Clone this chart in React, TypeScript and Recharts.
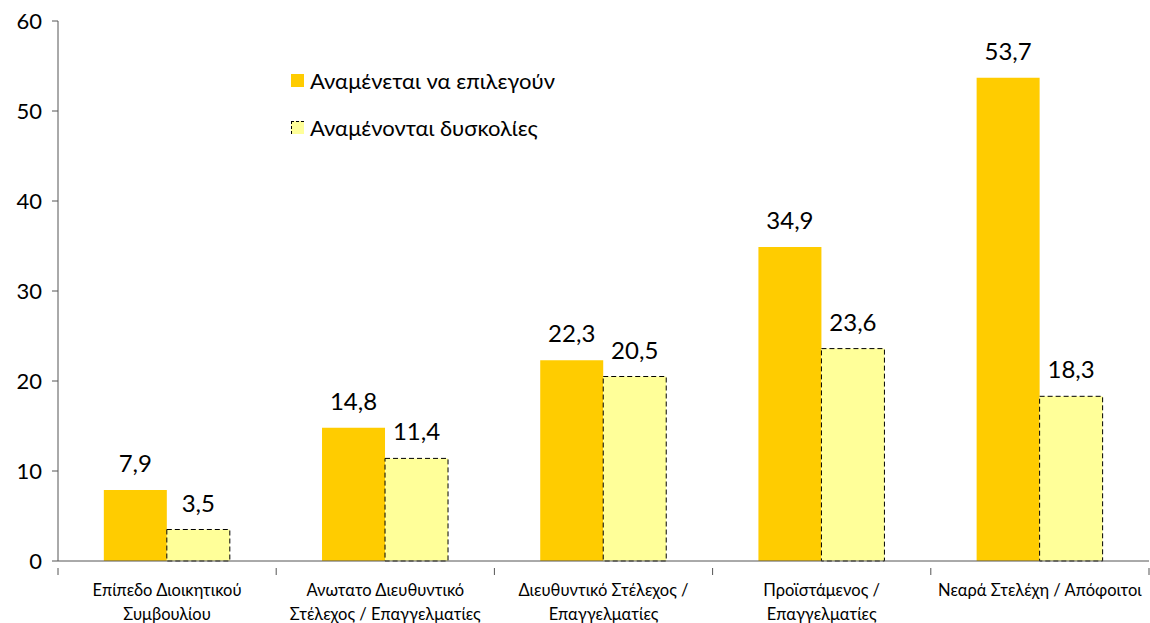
import { BarChart, Bar, XAxis, YAxis, LabelList } from 'recharts';

const categories = [
  ['Επίπεδο Διοικητικού', 'Συμβουλίου'],
  ['Ανωτατο Διευθυντικό', 'Στέλεχος / Επαγγελματίες'],
  ['Διευθυντικό Στέλεχος /', 'Επαγγελματίες'],
  ['Προϊστάμενος /', 'Επαγγελματίες'],
  ['Νεαρά Στελέχη / Απόφοιτοι'],
];
const expectedChoice = [7.9, 14.8, 22.3, 34.9, 53.7];
const expectedDifficulty = [3.5, 11.4, 20.5, 23.6, 18.3];
const yTicks = [0, 10, 20, 30, 40, 50, 60];

const FONT = "Lato, 'Noto Sans', sans-serif";
const W = 1150;
const H = 623;
const M = { top: 21, right: 1, left: 8, bottom: 6 };
const Y_W = 50;
const BAND = (W - M.left - M.right - Y_W) / categories.length;

const data = categories.map((lines, i) => ({
  name: lines.join(' '),
  lines,
  choice: expectedChoice[i],
  difficulty: expectedDifficulty[i],
}));

const fmt = (v: any) => String(v).replace('.', ',');

const CategoryTick = ({ x, y, payload, index }: any) => {
  const lines: string[] = data[payload.index ?? index]?.lines ?? [payload.value];
  const left = x - BAND / 2;
  return (
    <g>
      <line x1={left} y1={y - 1} x2={left} y2={y + 6} stroke="#555" />
      {index === categories.length - 1 && (
        <line x1={x + BAND / 2} y1={y - 1} x2={x + BAND / 2} y2={y + 6} stroke="#555" />
      )}
      {lines.map((l, i) => (
        <text key={i} x={x} y={y + 27 + i * 24} textAnchor="middle" fill="#000" fontSize={16.5} fontFamily={FONT}>
          {l}
        </text>
      ))}
    </g>
  );
};

export default function App() {
  return (
    <div style={{ position: 'absolute', left: 0, top: 0, width: W, height: H, background: '#fff' }}>
      <BarChart width={W} height={H} data={data} margin={M} barCategoryGap="21%" barGap={0}>
        <XAxis
          dataKey="name"
          stroke="#555"
          tickLine={false}
          height={56}
          interval={0}
          tick={<CategoryTick />}
        />
        <YAxis
          width={Y_W}
          domain={[0, 60]}
          ticks={yTicks}
          stroke="#555"
          tickSize={6}
          tickMargin={10}
          tick={{ fill: '#000', fontSize: 22, fontFamily: FONT }}
        />
        <Bar dataKey="choice" name="Αναμένεται να επιλεγούν" fill="#FFCC00" isAnimationActive={false}>
          <LabelList dataKey="choice" position="top" offset={18} formatter={fmt} fill="#000" fontSize={24} fontFamily={FONT} />
        </Bar>
        <Bar dataKey="difficulty" name="Αναμένονται δυσκολίες" fill="#FFFF99" stroke="#000" strokeWidth={1} strokeDasharray="5 3" isAnimationActive={false}>
          <LabelList dataKey="difficulty" position="top" offset={18} formatter={fmt} fill="#000" stroke="none" fontSize={24} fontFamily={FONT} />
        </Bar>
      </BarChart>
      <div style={{ position: 'absolute', left: 291, top: 67, fontFamily: FONT, fontSize: 22, color: '#000' }}>
        <div style={{ display: 'flex', alignItems: 'center', height: 26 }}>
          <span style={{ width: 13, height: 13, background: '#FFCC00', marginRight: 6, display: 'inline-block' }} />
          Αναμένεται να επιλεγούν
        </div>
        <div style={{ display: 'flex', alignItems: 'center', height: 26, marginTop: 21 }}>
          <span style={{ width: 12, height: 12, background: '#FFFF99', borderTop: '1px dashed #000', borderLeft: '1px dashed #000', marginRight: 6, display: 'inline-block' }} />
          Αναμένονται δυσκολίες
        </div>
      </div>
    </div>
  );
}
